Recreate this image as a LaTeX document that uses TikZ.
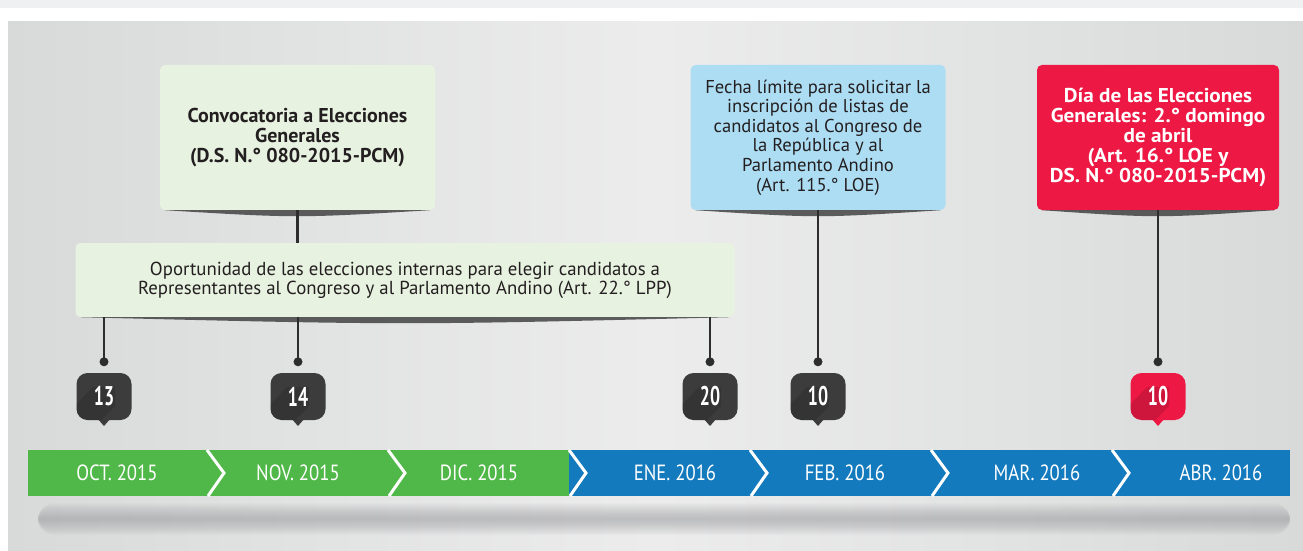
\documentclass[tikz,border=0pt]{standalone}
\usepackage{fontspec}
\setmainfont{PT Sans}
\newfontfamily\condfont[FakeStretch=0.85]{PT Sans}
\newfontfamily\pinfont[FakeStretch=0.66]{PT Sans}
\newfontfamily\anchofont[FakeStretch=1.06]{PT Sans}
\definecolor{franja}{RGB}{238,240,241}
\definecolor{panelA}{RGB}{216,218,218}
\definecolor{panelB}{RGB}{236,236,236}
\definecolor{sombra}{RGB}{150,151,154}
\definecolor{verdecaja}{RGB}{232,242,225}
\definecolor{celestecaja}{RGB}{173,221,243}
\definecolor{rojo}{RGB}{237,25,68}
\definecolor{verdebar}{RGB}{80,184,72}
\definecolor{azulbar}{RGB}{20,122,190}
\definecolor{gris}{RGB}{60,60,60}
\definecolor{linea}{RGB}{45,45,45}
\definecolor{texto}{RGB}{35,31,32}
\usepackage{tikz}

\begin{document}
\begin{tikzpicture}[x=1pt, y=-1pt,
    caja/.style={rounded corners=5pt, inner sep=0pt, align=center, text=texto,
        minimum width=#1, minimum height=145pt, font=\fontsize{18.6}{19.6}\selectfont},
    marca/.style={inner sep=0pt, minimum width=55pt, minimum height=47pt,
        text=white, font=\pinfont\bfseries\fontsize{27}{27}\selectfont},
    mes/.style={text=white, inner sep=0pt, font=\condfont\fontsize{22}{22}\selectfont},
    conector/.style={linea, line width=2.6pt},
    sombracaja/.style={fill=linea, opacity=0.75}]
    \useasboundingbox (0,0) rectangle (1303,551);

    % Fondo
    \fill[franja] (0,0) rectangle (1303,8);
    \fill[white] (0,8) rectangle (1303,22);
    \shade[left color=panelA, right color=panelA, middle color=panelB] (8,22) rectangle (1303,551);

    % Sombra bajo la línea de tiempo
    \foreach \h in {1,...,16} {
        \fill[sombra, opacity=0.04, rounded corners=\h pt] (38,519-\h) rectangle (1290,519+\h);
    }

    % Meses
    \foreach \a/\b/\c/\t/\mes [count=\i] in {28/207/verdebar/117/OCT. 2015, 207/388/verdebar/298/NOV. 2015,
            388/569/verdebar/479/DIC. 2015, 569/750/azulbar/675/ENE. 2016, 750/931/azulbar/845/FEB. 2016,
            931/1112/azulbar/1037/MAR. 2016, 1112/1290/azulbar/1221/ABR. 2016} {
        \fill[\c] (\a,450) rectangle (\b,496);
        \node[mes] (m\i) at (\t,473) {\mes};
    }
    \foreach \a in {207,388,569,750,931,1112} {
        \draw[white, line width=3pt] (\a,450) -- (\a+17,473) -- (\a+1,496);
    }

    % Cajas
    \node[caja=275pt, fill=verdecaja, font=\bfseries\fontsize{20}{20}\selectfont] (conv) at (297.5,137.5)
        {Convocatoria a Elecciones\\Generales\\(D.S. N.° 080-2015-PCM)};
    \node[caja=659pt, fill=verdecaja, minimum height=74pt, font=\fontsize{18.8}{19}\selectfont] (opor) at (405,280)
        {Oportunidad de las elecciones internas para elegir candidatos a\\Representantes al Congreso y al Parlamento Andino (Art. 22.° LPP)};
    \node[caja=255pt, fill=celestecaja] (fecha) at (818,137.5)
        {Fecha límite para solicitar la\\inscripción de listas de\\candidatos al Congreso de\\la República y al\\Parlamento Andino\\(Art. 115.° LOE)};
    \node[caja=242pt, fill=rojo, text=white, font=\anchofont\bfseries\fontsize{20}{19.8}\selectfont] (dia) at (1158,137.5)
        {Día de las Elecciones\\Generales: 2.° domingo\\de abril\\(Art. 16.° LOE y\\DS. N.° 080-2015-PCM)};
    \foreach \b in {conv,opor,fecha,dia} {
        \fill[sombracaja] ([xshift=5pt]\b.south west) .. controls ([yshift=-8pt]\b.south) .. ([xshift=-5pt]\b.south east) -- cycle;
    }

    % Fechas
    \foreach \x/\n/\c/\id in {104/13/gris/a, 298/14/gris/b, 710/20/gris/c, 818/10/gris/d, 1158/10/rojo/e} {
        \fill[\c] (\x-7,418) -- (\x,426) -- (\x+7,418) -- cycle;
        \fill[\c, rounded corners=11pt] (\x-27.5,373) rectangle (\x+27.5,420);
        \begin{scope}
            \clip[rounded corners=11pt] (\x-27.5,373) rectangle (\x+27.5,420);
            \fill[black, opacity=0.13] (\x+11,387) -- (\x+11,406) -- (\x-5,422) -- (\x-40,422) -- (\x-40,417) -- (\x-11,387) -- cycle;
        \end{scope}
        \node[marca] (p\id) at (\x,396.5) {\n};
        \coordinate (t\id) at ([yshift=11pt]p\id.north);
        \fill[linea] (t\id) circle (4.5pt);
    }

    % Conectores
    \draw[conector] (conv.south) -- (conv.south |- opor.north);
    \draw[conector] (opor.south -| pa) -- (ta);
    \draw[conector] (opor.south -| pb) -- (tb);
    \draw[conector] (opor.south -| pc) -- (tc);
    \draw[conector] (fecha.south) -- (td);
    \draw[conector] (dia.south) -- (te);
\end{tikzpicture}
\end{document}
